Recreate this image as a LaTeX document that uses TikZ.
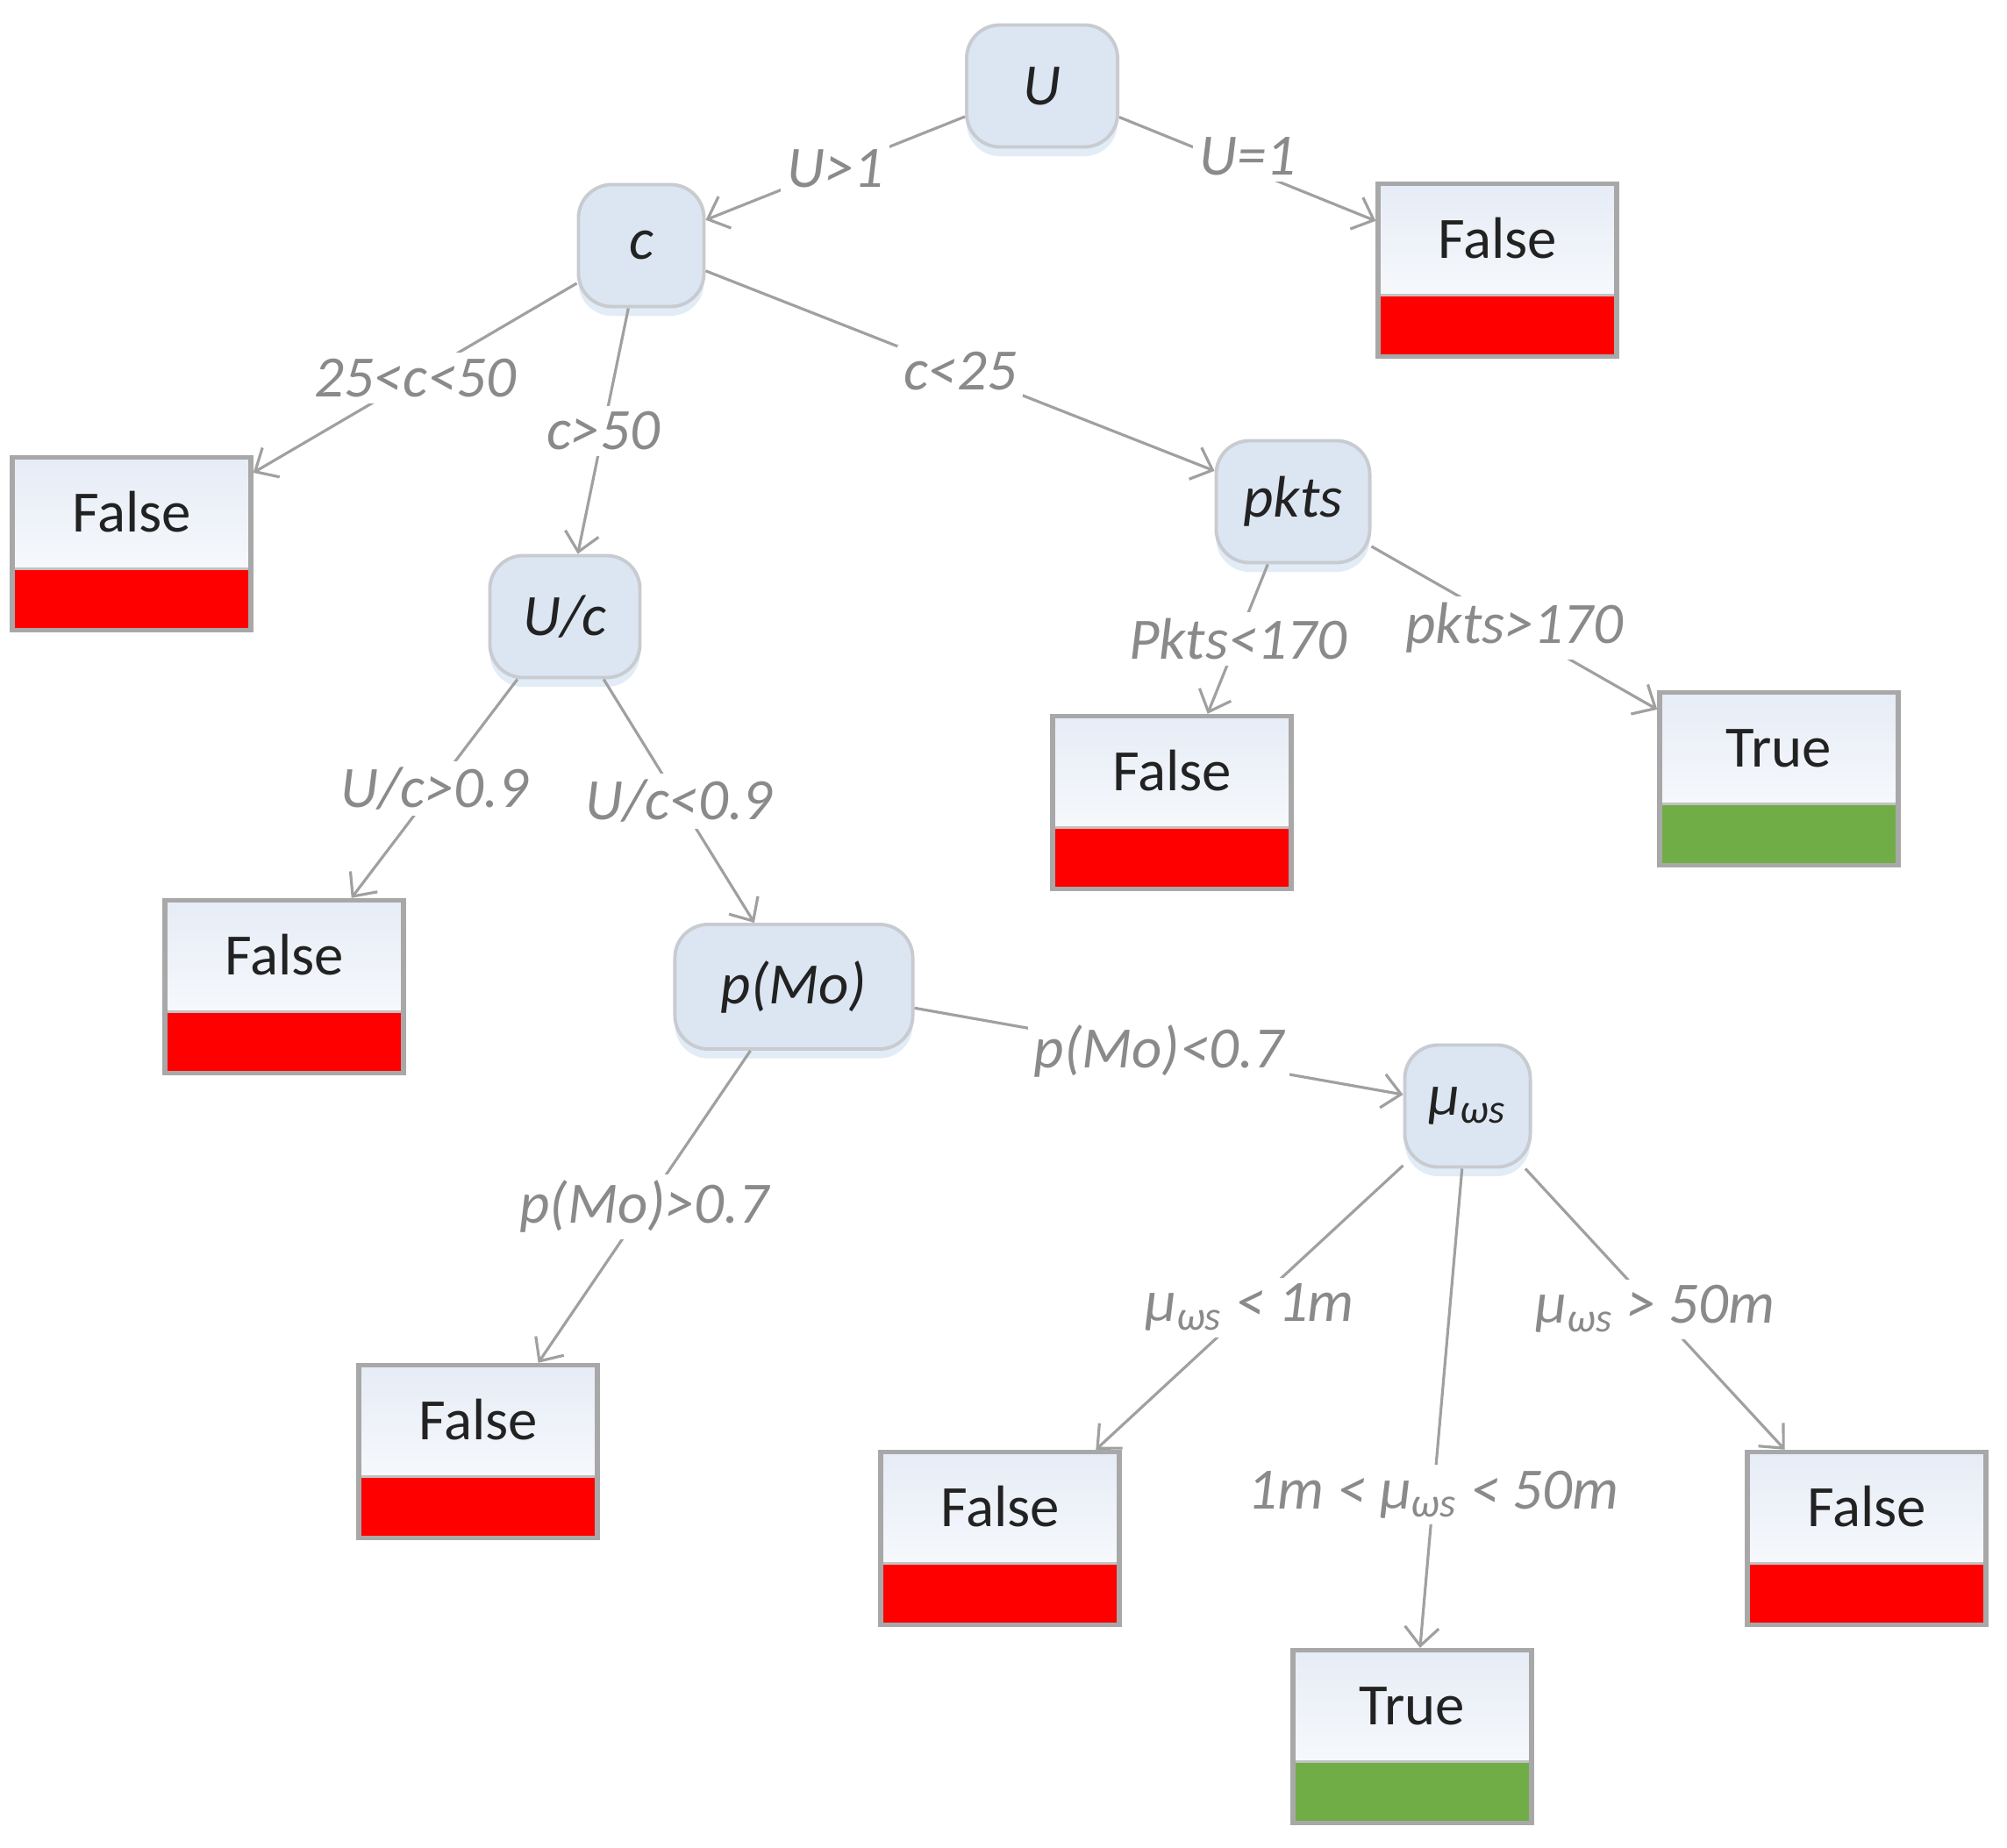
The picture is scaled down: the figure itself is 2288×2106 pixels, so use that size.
\documentclass[tikz,border=0pt]{standalone}
\usepackage{fontspec}
\setmainfont{Carlito}
\usetikzlibrary{arrows.meta,shadows}
\definecolor{nodefill}{HTML}{DCE6F2}
\definecolor{nodeborder}{HTML}{C8CBD0}
\definecolor{shadowblue}{HTML}{D6E4F5}
\definecolor{leafborder}{HTML}{A8A8A8}
\definecolor{leaftop}{HTML}{E6ECF6}
\definecolor{edgegray}{HTML}{A0A0A0}
\definecolor{lblgray}{HTML}{8A8A8A}
\definecolor{falsered}{HTML}{FF0000}
\definecolor{truegreen}{HTML}{70AD47}
\definecolor{textdark}{HTML}{222222}
\tikzset{
  dnode/.style={rectangle, rounded corners=0.38cm, fill=nodefill, draw=nodeborder,
    line width=1.1pt, minimum width=1.43cm, minimum height=1.39cm, inner sep=0pt,
    font=\fontsize{19}{22}\selectfont\itshape, text=textdark,
    drop shadow={shadow xshift=0pt, shadow yshift=-3pt, fill=shadowblue, opacity=0.7}},
  leafbox/.style={rectangle, draw=leafborder, line width=1.5pt, top color=leaftop, bottom color=white,
    minimum width=2.72cm, minimum height=1.97cm, inner sep=0pt,
    text height=0.44cm, text depth=0.71cm, text=textdark,
    font=\fontsize{19}{22}\selectfont,
    path picture={
      \fill[#1] (path picture bounding box.south west) rectangle ([yshift=0.70cm]path picture bounding box.south east);
      \draw[leafborder!70, line width=1pt] ([yshift=0.70cm]path picture bounding box.south west) -- ([yshift=0.70cm]path picture bounding box.south east);
    }},
  falseleaf/.style={leafbox=falsered},
  trueleaf/.style={leafbox=truegreen},
  edge/.style={draw=edgegray, line width=0.9pt, -{Straight Barb[length=6pt,width=11pt]}},
  lbl/.style={fill=white, inner sep=2pt, text=lblgray, font=\fontsize{19}{22}\selectfont\itshape},
}
\newcommand{\muws}{μ\textsubscript{ωs}}
\begin{document}
\begin{tikzpicture}[x=0.01cm,y=-0.01cm]
\fill[white] (0,0) rectangle (2288,2106);
\useasboundingbox (0,0) rectangle (2288,2106);
% decision nodes
\node[dnode, minimum width=1.72cm] (U) at (1188,98) {U};
\node[dnode] (c) at (731,280) {c};
\node[dnode, minimum width=1.71cm] (Uc) at (644,703) {U/c};
\node[dnode, minimum width=1.75cm] (pkts) at (1474,572) {pkts};
\node[dnode, minimum width=2.71cm, minimum height=1.42cm] (pMo) at (905,1125) {p(Mo)};
\node[dnode] (mu) at (1673,1261) {\muws};
% leaves
\node[falseleaf] (fTR) at (1707,308) {False};
\node[falseleaf] (fL) at (150,620) {False};
\node[falseleaf] (fP) at (1336,915) {False};
\node[trueleaf] (tP) at (2028,888) {True};
\node[falseleaf] (fUc) at (324,1125) {False};
\node[falseleaf] (fpM) at (545,1655) {False};
\node[falseleaf] (fm1) at (1140,1754) {False};
\node[trueleaf] (tmid) at (1610,1980) {True};
\node[falseleaf] (fm2) at (2128,1754) {False};
% edges
\draw[edge] (U) -- node[lbl] {U>1} (c);
\draw[edge] (U) -- node[lbl, yshift=4pt] {U=1} (fTR);
\draw[edge] (c) -- node[lbl] {25<c<50} (fL);
\draw[edge] (c) -- node[lbl] {c>50} (Uc);
\draw[edge] (c) -- node[lbl] {c<25} (pkts);
\draw[edge] (pkts) -- node[lbl] {Pkts<170} (fP);
\draw[edge] (pkts) -- node[lbl] {pkts>170} (tP);
\draw[edge] (Uc) -- node[lbl] {U/c>0.9} (fUc);
\draw[edge] (Uc) -- node[lbl] {U/c<0.9} (pMo);
\draw[edge] (pMo) -- node[lbl] {p(Mo)>0.7} (fpM);
\draw[edge] (pMo) -- node[lbl] {p(Mo)<0.7} (mu);
\draw[edge] (mu) -- node[lbl] {\muws{} < 1m} (fm1);
\draw[edge] (mu) -- node[lbl, pos=0.68] {1m < \muws{} < 50m} (tmid);
\draw[edge] (mu) -- node[lbl] {\muws{} > 50m} (fm2);
\end{tikzpicture}
\end{document}
